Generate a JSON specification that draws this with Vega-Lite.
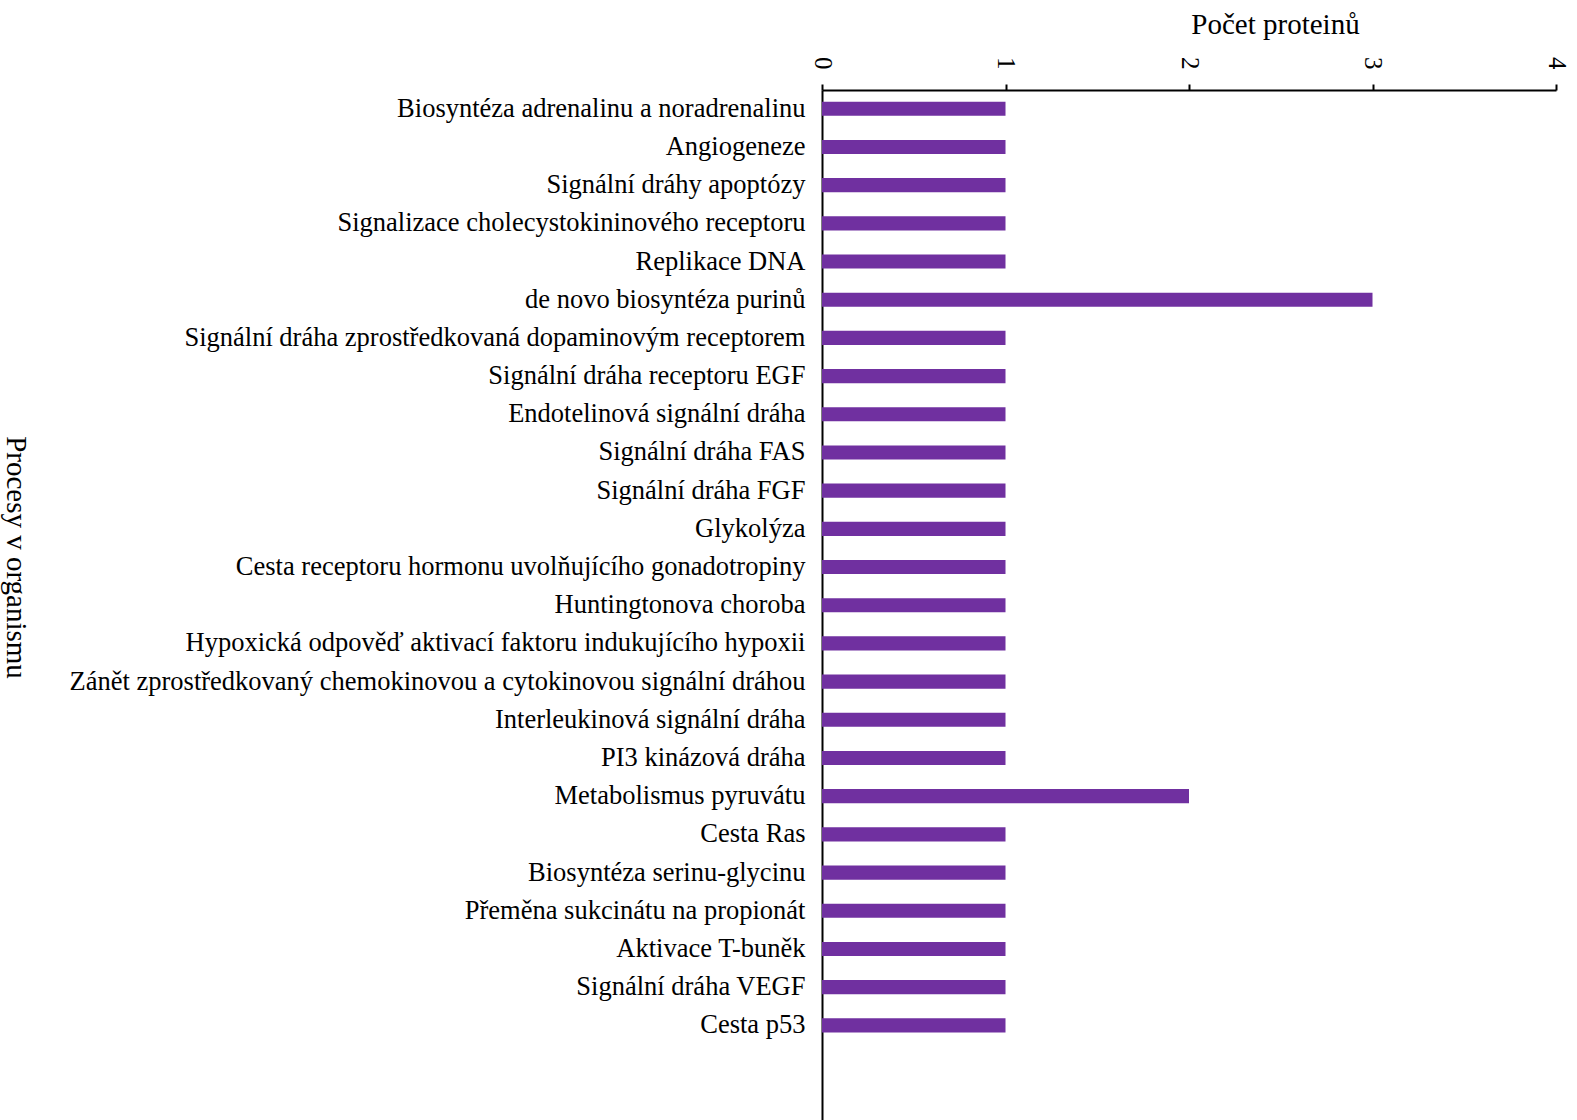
{
  "$schema": "https://vega.github.io/schema/vega-lite/v6.json",
  "width": 734,
  "height": 1030,
  "autosize": {"type": "none"},
  "padding": {"left": 822, "top": 90, "right": 21, "bottom": 0},
  "background": "white",
  "config": {
    "view": {"stroke": null},
    "font": "Liberation Serif"
  },
  "data": {
    "values": [
      {"proces": "Biosyntéza adrenalinu a noradrenalinu", "pocet": 1},
      {"proces": "Angiogeneze", "pocet": 1},
      {"proces": "Signální dráhy apoptózy", "pocet": 1},
      {"proces": "Signalizace cholecystokininového receptoru", "pocet": 1},
      {"proces": "Replikace DNA", "pocet": 1},
      {"proces": "de novo biosyntéza purinů", "pocet": 3},
      {"proces": "Signální dráha zprostředkovaná dopaminovým receptorem\u00a0", "pocet": 1},
      {"proces": "Signální dráha receptoru EGF", "pocet": 1},
      {"proces": "Endotelinová signální dráha", "pocet": 1},
      {"proces": "Signální dráha FAS", "pocet": 1},
      {"proces": "Signální dráha FGF", "pocet": 1},
      {"proces": "Glykolýza", "pocet": 1},
      {"proces": "Cesta receptoru hormonu uvolňujícího gonadotropiny", "pocet": 1},
      {"proces": "Huntingtonova choroba\u00a0", "pocet": 1},
      {"proces": "Hypoxická odpověď aktivací faktoru indukujícího hypoxii", "pocet": 1},
      {"proces": "Zánět zprostředkovaný chemokinovou a cytokinovou signální dráhou", "pocet": 1},
      {"proces": "Interleukinová signální dráha", "pocet": 1},
      {"proces": "PI3 kinázová dráha", "pocet": 1},
      {"proces": "Metabolismus pyruvátu", "pocet": 2},
      {"proces": "Cesta Ras", "pocet": 1},
      {"proces": "Biosyntéza serinu-glycinu", "pocet": 1},
      {"proces": "Přeměna sukcinátu na propionát", "pocet": 1},
      {"proces": "Aktivace T-buněk", "pocet": 1},
      {"proces": "Signální dráha VEGF", "pocet": 1},
      {"proces": "Cesta p53", "pocet": 1}
    ]
  },
  "mark": {"type": "bar", "color": "#7030A0"},
  "encoding": {
    "y": {
      "field": "proces",
      "type": "nominal",
      "sort": null,
      "scale": {
        "domain": [
          "Biosyntéza adrenalinu a noradrenalinu",
          "Angiogeneze",
          "Signální dráhy apoptózy",
          "Signalizace cholecystokininového receptoru",
          "Replikace DNA",
          "de novo biosyntéza purinů",
          "Signální dráha zprostředkovaná dopaminovým receptorem\u00a0",
          "Signální dráha receptoru EGF",
          "Endotelinová signální dráha",
          "Signální dráha FAS",
          "Signální dráha FGF",
          "Glykolýza",
          "Cesta receptoru hormonu uvolňujícího gonadotropiny",
          "Huntingtonova choroba\u00a0",
          "Hypoxická odpověď aktivací faktoru indukujícího hypoxii",
          "Zánět zprostředkovaný chemokinovou a cytokinovou signální dráhou",
          "Interleukinová signální dráha",
          "PI3 kinázová dráha",
          "Metabolismus pyruvátu",
          "Cesta Ras",
          "Biosyntéza serinu-glycinu",
          "Přeměna sukcinátu na propionát",
          "Aktivace T-buněk",
          "Signální dráha VEGF",
          "Cesta p53",
          " ",
          "  "
        ],
        "paddingInner": 0.63,
        "paddingOuter": 0.3,
        "align": 0.51
      },
      "axis": {
        "orient": "left",
        "title": "Procesy v organismu",
        "titleFont": "Liberation Serif",
        "titleFontSize": 29,
        "titleFontWeight": "normal",
        "titleColor": "black",
        "titleAngle": 90,
        "titleAlign": "center",
        "titleBaseline": "middle",
        "titleX": -807,
        "titleY": 467,
        "labelFont": "Liberation Serif",
        "labelFontSize": 26.5,
        "labelColor": "black",
        "labelPadding": 17,
        "labelLimit": 0,
        "ticks": false,
        "domainColor": "black",
        "domainWidth": 2
      }
    },
    "x": {
      "field": "pocet",
      "type": "quantitative",
      "scale": {"domain": [0, 4], "nice": false},
      "axis": {
        "orient": "top",
        "title": "Počet proteinů",
        "titleFont": "Liberation Serif",
        "titleFontSize": 29,
        "titleFontWeight": "normal",
        "titleColor": "black",
        "titleAlign": "center",
        "titleBaseline": "alphabetic",
        "titleX": 453,
        "titleY": -57,
        "values": [0, 1, 2, 3, 4],
        "grid": false,
        "labelAngle": 90,
        "labelFont": "Liberation Serif",
        "labelFontSize": 25,
        "labelColor": "black",
        "labelPadding": 15,
        "labelFlush": false,
        "labelBound": false,
        "tickColor": "black",
        "tickSize": 6,
        "tickWidth": 2,
        "domainColor": "black",
        "domainWidth": 2
      }
    }
  }
}
